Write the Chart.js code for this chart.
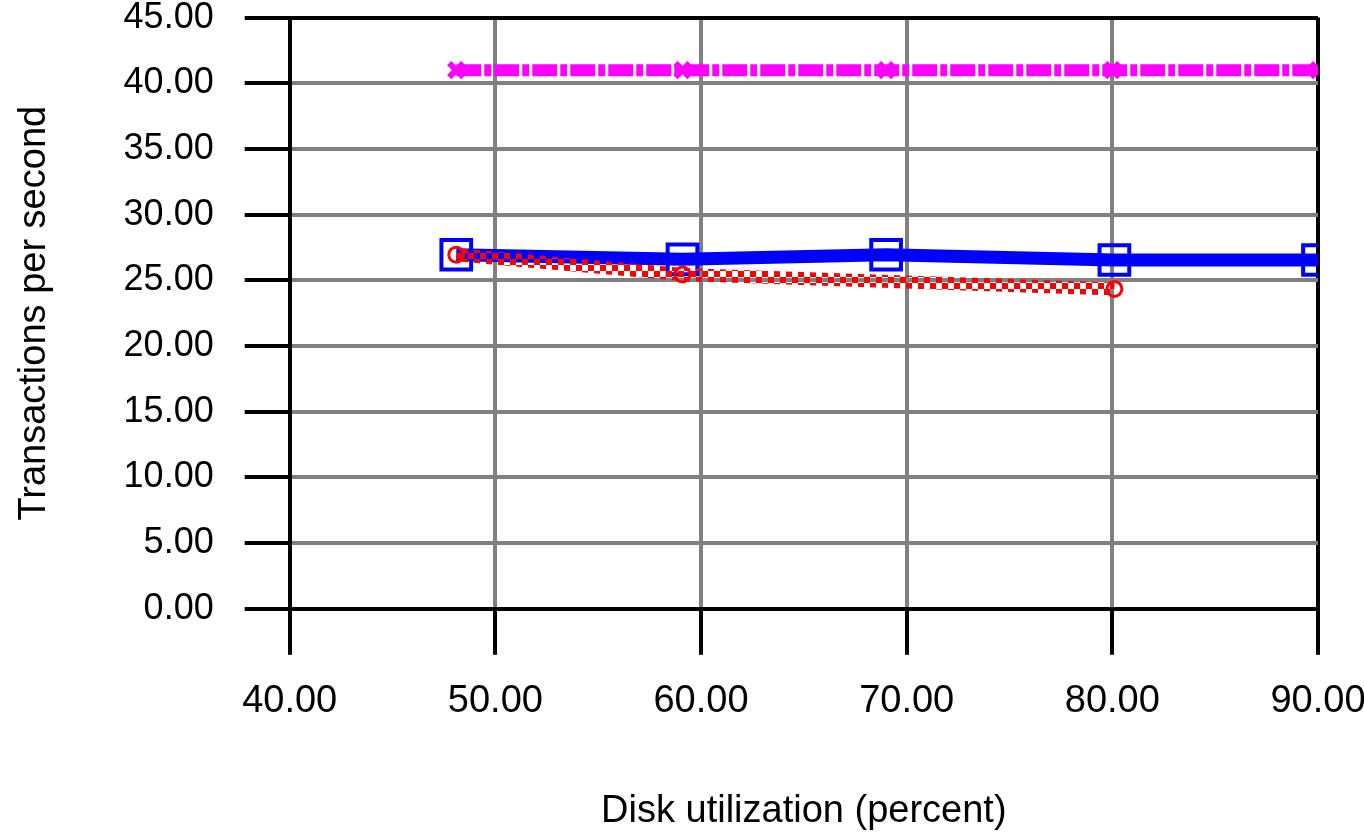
<!DOCTYPE html>
<html>
<head>
<meta charset="utf-8">
<script src="https://cdn.jsdelivr.net/npm/chart.js@4.4.1/dist/chart.umd.min.js"></script>
<style>
  html, body { margin: 0; padding: 0; background: #fff; overflow: hidden; }
  /* canvas is taller/wider than the window so the tick padding above the
     plot and the right-hand label overhang fall outside, like the original */
  #wrap { position: absolute; left: 0; top: -35px; width: 1400px; height: 874px; }
</style>
</head>
<body>
<div id="wrap"><canvas id="chart"></canvas></div>
<script>
// Values
const triangleX = [48.1, 59.1, 69.0, 80.0, 90.0];
const triangleY = [41.0, 41.0, 41.0, 41.0, 41.0];

const squareX = [48.1, 59.1, 69.0, 80.1, 90.0];
const squareY = [26.95, 26.6, 26.95, 26.55, 26.55];

const circleX = [48.1, 59.1, 80.1];
const circleY = [26.95, 25.45, 24.35];

const xTicks = [40, 50, 60, 70, 80, 90];
const yTicks = [0, 5, 10, 15, 20, 25, 30, 35, 40, 45];

function pairs(xs, ys) {
  return xs.map((x, i) => ({ x: x, y: ys[i] }));
}

// checker pattern for the red dotted band
function checker(color, cell) {
  const c = document.createElement('canvas');
  c.width = cell * 2;
  c.height = cell * 2;
  const g = c.getContext('2d');
  g.fillStyle = color;
  g.fillRect(0, 0, cell, cell);
  g.fillRect(cell, cell, cell, cell);
  return g.createPattern(c, 'repeat');
}

const black = '#000000';
const gray = '#808080';
const fontFamily = 'Liberation Sans, Arial, sans-serif';

const ctx = document.getElementById('chart').getContext('2d');
new Chart(ctx, {
  type: 'line',
  data: {
    datasets: [
      {
        // red dotted line with circles, drawn on top
        data: pairs(circleX, circleY),
        borderColor: checker('#ff0000', 6),
        borderWidth: 13,
        pointStyle: 'circle',
        pointRadius: 7.5,
        pointBorderWidth: 3,
        pointBorderColor: '#ff0000',
        pointBackgroundColor: 'rgba(255,255,255,0)',
        clip: 0
      },
      {
        data: pairs(squareX, squareY),
        borderColor: '#0000ff',
        borderWidth: 13,
        pointStyle: 'rect',
        pointRadius: 21,
        pointBorderWidth: 4,
        pointBorderColor: '#0000ff',
        pointBackgroundColor: 'rgba(255,255,255,0)',
        clip: 0
      },
      {
        data: pairs(triangleX, triangleY),
        borderColor: '#ff00ff',
        borderWidth: 12,
        borderDash: [25, 3, 7, 3],
        pointStyle: 'crossRot',
        pointRadius: 10,
        pointBorderWidth: 6,
        pointBorderColor: '#ff00ff',
        clip: 0
      }
    ]
  },
  options: {
    responsive: true,
    maintainAspectRatio: false,
    animation: false,
    layout: { padding: { top: 0, right: 82, left: 0, bottom: 0 } },
    plugins: {
      legend: { display: false },
      tooltip: { enabled: false }
    },
    elements: { line: { tension: 0 } },
    scales: {
      x: {
        type: 'linear',
        min: 40,
        max: 90,
        afterBuildTicks: (axis) => { axis.ticks = xTicks.map(v => ({ value: v })); },
        ticks: {
          color: black,
          padding: 24,
          maxRotation: 0,
          font: { family: fontFamily, size: 38 },
          callback: (v) => Number(v).toFixed(2)
        },
        grid: {
          lineWidth: 4,
          tickLength: 46,
          tickWidth: 4,
          tickColor: black,
          color: (c) => (c.tick && (c.tick.value === 40 || c.tick.value === 90)) ? black : gray
        },
        border: { display: true, color: black, width: 4 },
        title: {
          display: true,
          text: 'Disk utilization (percent)',
          color: black,
          font: { family: fontFamily, size: 38 },
          padding: { top: 40, bottom: 5 }
        }
      },
      y: {
        min: 0,
        max: 45,
        afterBuildTicks: (axis) => { axis.ticks = yTicks.map(v => ({ value: v })); },
        ticks: {
          color: black,
          padding: 31,
          font: { family: fontFamily, size: 36 },
          callback: (v) => Number(v).toFixed(2)
        },
        grid: {
          lineWidth: 4,
          tickLength: 45,
          tickWidth: 4,
          tickColor: black,
          color: (c) => (c.tick && (c.tick.value === 0 || c.tick.value === 45)) ? black : gray
        },
        border: { display: true, color: black, width: 4 },
        title: {
          display: true,
          text: 'Transactions per second',
          color: black,
          font: { family: fontFamily, size: 38 },
          padding: { top: 12, bottom: 35 }
        }
      }
    }
  }
});
</script>
</body>
</html>
